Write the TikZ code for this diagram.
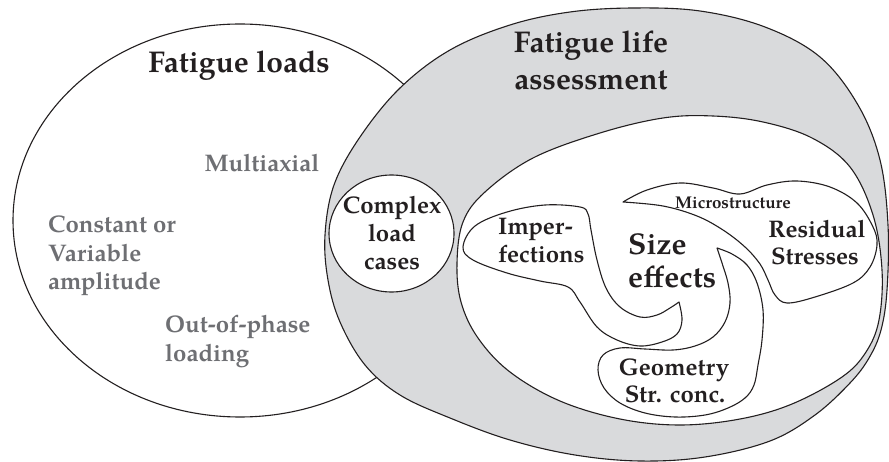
\documentclass[tikz,border=0pt]{standalone}
\usepackage{fontspec}
\setmainfont{TeX Gyre Pagella}
\definecolor{ringgrey}{RGB}{217,218,220}
\definecolor{labelgrey}{RGB}{110,111,115}
\definecolor{ink}{RGB}{35,31,32}
\begin{document}
\begin{tikzpicture}[x=1pt,y=-1pt,
  outline/.style={draw=ink,line width=1.1pt,line join=round},
  headtxt/.style={font=\fontsize{30}{36}\selectfont\bfseries,text=ink,inner sep=0pt},
  itemtxt/.style={font=\fontsize{24}{28}\selectfont\bfseries,text=ink,inner sep=0pt},
  bigtxt/.style={font=\fontsize{30}{36}\selectfont\bfseries,text=ink,inner sep=0pt},
  loadtxt/.style={font=\fontsize{24}{28}\selectfont\bfseries,text=labelgrey,inner sep=0pt},
  smalltxt/.style={font=\fontsize{17}{20}\selectfont\bfseries,text=ink,inner sep=0pt}]
\useasboundingbox (0,0) rectangle (889,462);
\fill[white] (0,0) rectangle (889,462);

% fatigue loads
\draw[outline,fill=white] (240,220.5) ellipse [x radius=227pt, y radius=196.5pt];

% fatigue life assessment ring
\draw[outline,fill=ringgrey] plot[smooth cycle,tension=0.6] coordinates {
  (325,235) (334,185) (360,137) (400,88) (450,50) (510,25) (570,12) (633,8)
  (700,11) (765,27) (820,57) (858,105) (880,160) (888,225) (887,290) (881,330)
  (869,358) (850,383) (815,415) (770,441) (705,457) (640,461) (575,455)
  (510,440) (450,418) (400,395) (365,365) (340,322) (328,280)};

% inner region
\draw[outline,fill=white] plot[smooth cycle,tension=0.6] coordinates {
  (457,263) (463,222) (485,192) (533,158) (600,133) (663,118) (713,116)
  (763,122) (812,138) (850,167) (873,215) (882,270) (879,320) (866,352)
  (842,377) (792,404) (740,419) (680,425) (620,419) (560,401) (510,372)
  (478,338) (461,302)};

% complex load cases
\draw[outline,fill=white] (391.5,233.5) ellipse [x radius=62.5pt, y radius=58.5pt];

% imperfections
\draw[outline,fill=white] plot[smooth,tension=0.6] coordinates {
  (679,302) (670,308) (657,315) (640,317) (620,307) (606,288) (597,260)
  (591,230) (588,214) (580,207) (545,205) (507,212) (475,226) (463,247)
  (473,260) (507,273) (540,281) (568,287) (580,302) (597,327) (617,340)
  (640,346) (662,342) (677,334) (682,320) (679,302)} -- cycle;

% residual stresses with microstructure tail
\draw[outline,fill=white] plot[smooth,tension=0.6] coordinates {
  (623,202) (647,190) (680,183) (713,188) (740,194) (767,185) (797,181)
  (830,187) (857,203) (873,227) (877,245) (870,267) (853,283) (815,297)
  (787,303) (775,295) (768,280) (760,264) (745,247) (723,230) (697,216)
  (663,206) (623,202)} -- cycle;

% geometry / stress concentration
\draw[outline,fill=white] plot[smooth,tension=0.6] coordinates {
  (717,248) (732,254) (747,265) (757,283) (763,310) (762,340) (758,365)
  (754,385) (745,398) (728,408) (705,415) (675,417) (645,413) (620,403)
  (604,388) (598,370) (603,355) (620,348) (645,349) (673,350) (695,346)
  (713,337) (725,322) (730,303) (728,283) (722,263) (717,248)} -- cycle;

% labels
\node[headtxt,anchor=base] (loads) at (239,73) {Fatigue loads};
\node[headtxt,anchor=base] (life1) at (591,53) {Fatigue life};
\node[headtxt,anchor=base] (life2) at (591,90) {assessment};

\node[loadtxt,anchor=base] (multi) at (262,172) {Multiaxial};
\node[loadtxt,anchor=base west] (const1) at (48,233) {Constant or};
\node[loadtxt,anchor=base west] (const2) at (48,262) {Variable};
\node[loadtxt,anchor=base west] (const3) at (48,290) {amplitude};
\node[loadtxt,anchor=base west] (phase1) at (165,333) {Out-of-phase};
\node[loadtxt,anchor=base west] (phase2) at (165,361) {loading};

\node[itemtxt,anchor=base] (cplx1) at (392,214) {Complex};
\node[itemtxt,anchor=base] (cplx2) at (392,242) {load};
\node[itemtxt,anchor=base] (cplx3) at (392,270) {cases};

\node[itemtxt,anchor=base west] (imp1) at (498,235) {Imper-};
\node[itemtxt,anchor=base west] (imp2) at (498,263) {fections};

\node[bigtxt,anchor=base west] (size1) at (628,255) {Size};
\node[bigtxt,anchor=base west] (size2) at (628,288) {effects};

\node[smalltxt,anchor=base west] (micro) at (675,209) {Microstructure};
\node[itemtxt,anchor=base] (res1) at (817,238) {Residual};
\node[itemtxt,anchor=base] (res2) at (815,265) {Stresses};

\node[itemtxt,anchor=base] (geo1) at (674,375) {Geometry};
\node[itemtxt,anchor=base] (geo2) at (675,402) {Str. conc.};
\end{tikzpicture}
\end{document}
